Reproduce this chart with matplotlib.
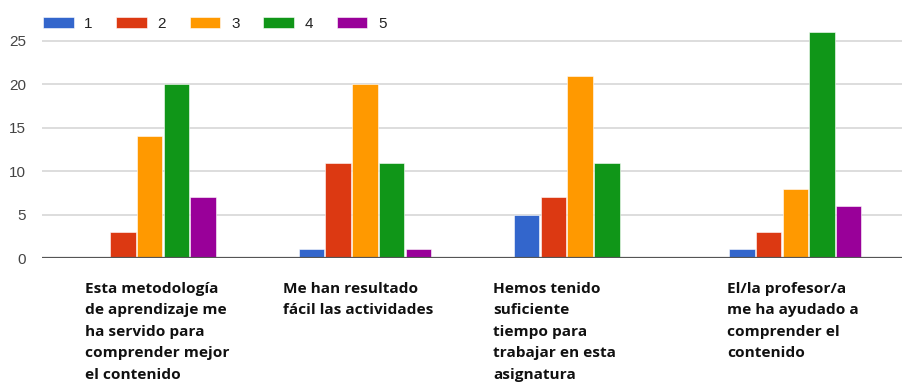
import numpy as np
import matplotlib.pyplot as plt
from matplotlib.patches import Patch

# Survey answers (scale 1-5) for each statement
questions = [
    "Esta metodología\nde aprendizaje me\nha servido para\ncomprender mejor\nel contenido",
    "Me han resultado\nfácil las actividades",
    "Hemos tenido\nsuficiente\ntiempo para\ntrabajar en esta\nasignatura",
    "El/la profesor/a\nme ha ayudado a\ncomprender el\ncontenido",
]
scores = ["1", "2", "3", "4", "5"]
counts_1 = [0, 1, 5, 1]
counts_2 = [3, 11, 7, 3]
counts_3 = [14, 20, 21, 8]
counts_4 = [20, 11, 11, 26]
counts_5 = [7, 1, 0, 6]
yticks = [0, 5, 10, 15, 20, 25]

# left edge of each wrapped label, relative to its group centre
label_shift = [-0.300, -0.380, -0.405, -0.318]

colours = ["#3366cc", "#dc3912", "#ff9900", "#109618", "#990099"]
series = [counts_1, counts_2, counts_3, counts_4, counts_5]

fig = plt.figure(figsize=(9.03, 3.82), dpi=100)
ax = fig.add_axes([42 / 903, 1 - 258 / 382, 1 - 42 / 903, 258 / 382 - 24 / 382])

x = np.arange(len(questions))
step = 0.124
width = 0.118
for i, (vals, c) in enumerate(zip(series, colours)):
    ax.bar(x + (i - 2) * step, vals, width=width, color=c,
           edgecolor="white", linewidth=0.4, zorder=3)

ax.set_xlim(-0.5, 3.5)
ax.set_ylim(0, 25 * (258 - 24) / (258 - 41))
ax.set_yticks(yticks)
ax.yaxis.grid(True, color="#dddddd", linewidth=1.4, zorder=0)
ax.axhline(0, color="#555555", linewidth=1.6, zorder=4)
for s in ax.spines.values():
    s.set_visible(False)
ax.tick_params(axis="y", length=0, pad=11.5, labelsize=11, labelcolor="#444444")
for lab in ax.get_yticklabels():
    lab.set_fontfamily("Liberation Sans")
ax.set_xticks([])

# wrapped category labels under each group
for xi, q, dx in zip(x, questions, label_shift):
    ax.text(xi + dx, -2.75, q, ha="left", va="top",
            fontsize=11.1, fontweight="bold", family="Open Sans",
            color="#111111", linespacing=1.68, clip_on=False)

handles = [Patch(facecolor=c, edgecolor="white", linewidth=0.4) for c in colours]
fig.legend(handles, scores, loc="center left", bbox_to_anchor=(43 / 903, 1 - 24 / 382),
           ncol=5, frameon=False, borderpad=0, borderaxespad=0,
           handlelength=2.0, handleheight=0.72, handletextpad=0.7,
           columnspacing=1.55, prop={"family": "Liberation Sans", "size": 11})
for t in fig.legends[0].get_texts():
    t.set_color("#222222")

fig.savefig("out.png", dpi=100)
